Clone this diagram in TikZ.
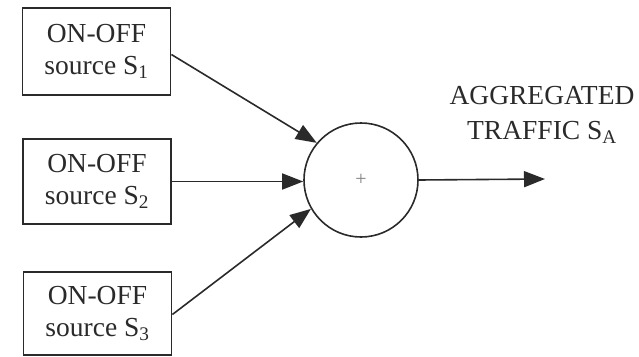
\documentclass[tikz,border=0pt]{standalone}
\usepackage{fontspec}
\setmainfont{Liberation Serif}
\usetikzlibrary{arrows.meta}
\definecolor{ink}{HTML}{2A2A2A}
\tikzset{
  srcbox/.style={draw=ink, line width=1.8pt, minimum width=148pt, minimum height=86pt,
    align=center, inner sep=0pt, font=\fontsize{27.5}{32}\selectfont, text=ink},
  feed/.style={draw=ink, line width=1.6pt, -{Triangle[length=21pt,width=16pt]}},
  adder/.style={circle, draw=ink, line width=1.6pt, minimum size=114pt, inner sep=0pt},
  caption/.style={align=center, font=\fontsize{27.5}{35}\selectfont, text=ink, inner sep=0pt}
}
\begin{document}
\begin{tikzpicture}[x=1pt,y=-1pt]
  \useasboundingbox (0,0) rectangle (639,356);
  % three ON-OFF sources
  \node[srcbox, minimum height=87pt] (s1) at (96.5,51.5) {ON-OFF\\source S\textsubscript{1}};
  \node[srcbox, minimum height=85pt] (s2) at (97,181.5) {ON-OFF\\source S\textsubscript{2}};
  \node[srcbox, minimum height=83pt] (s3) at (97.5,313.5) {ON-OFF\\source S\textsubscript{3}};
  % summing junction
  \node[adder] (sum) at (361,180) {};
  \node[text=gray, font=\fontsize{20}{20}\selectfont, inner sep=0pt] (plus) at (sum.center) {+};
  % aggregated output
  \coordinate (out) at (545,179);
  \node[caption] (agg) at (542,115) {AGGREGATED\\TRAFFIC S\textsubscript{A}};
  % connectors
  \draw[feed] ([yshift=-3pt]s1.east) -- (sum.140);
  \draw[feed] (s2.east) -- (s2.east -| sum.west);
  \draw[feed] ([yshift=-1pt]s3.east) -- (sum.210);
  \draw[feed] (sum.east) -- (out);
\end{tikzpicture}
\end{document}
